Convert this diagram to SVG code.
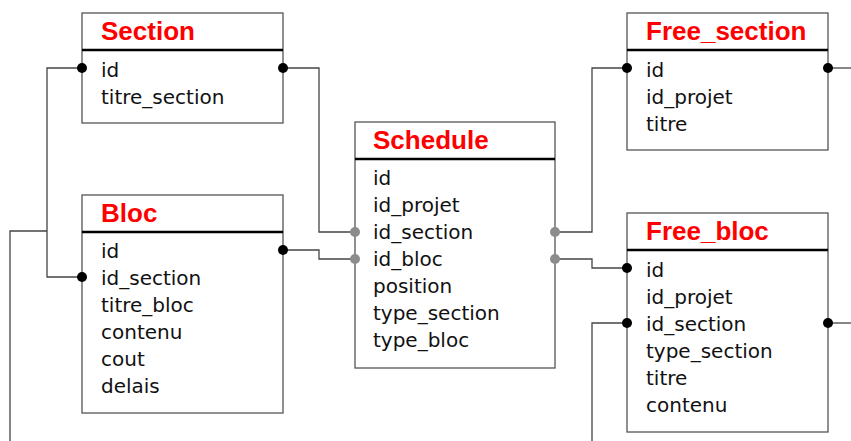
<svg xmlns="http://www.w3.org/2000/svg" width="851" height="441" viewBox="0 0 851 441">
<style>
.box{fill:#fff;stroke:#555;stroke-width:1.3}
.hdr{stroke:#000;stroke-width:2.5}
.title{font-family:"Liberation Sans",Arial,sans-serif;font-weight:bold;font-size:26px;fill:#ff0000}
.fld{font-family:"DejaVu Sans",sans-serif;font-size:20px;fill:#111}
.con{fill:none;stroke:#444;stroke-width:1.3}
.dot{fill:#000}
.gdot{fill:#8c8c8c}
</style>
<rect width="851" height="441" fill="#fff"/>
<g id="connectors">
<path class="con" d="M82 68 H47 V277 H82"/>
<path class="con" d="M47 231 H10 V441"/>
<path class="con" d="M283 68 H319 V232 H355"/>
<path class="con" d="M283 250 H319 V259 H355"/>
<path class="con" d="M555 232 H592 V68 H627"/>
<path class="con" d="M555 259 H592 V268 H627"/>
<path class="con" d="M627 323 H592 V441"/>
<path class="con" d="M828 68 H851"/>
<path class="con" d="M828 323 H851"/>
</g>
<g id="Section">
<rect class="box" x="82" y="13" width="201" height="110"/>
<line class="hdr" x1="82" y1="50" x2="283" y2="50"/>
<text class="title" x="101" y="40">Section</text>
<text class="fld" x="101" y="77">id</text>
<text class="fld" x="101" y="104">titre_section</text>
</g>
<g id="Bloc">
<rect class="box" x="82" y="195" width="201" height="218"/>
<line class="hdr" x1="82" y1="232" x2="283" y2="232"/>
<text class="title" x="101" y="222">Bloc</text>
<text class="fld" x="101" y="258">id</text>
<text class="fld" x="101" y="285">id_section</text>
<text class="fld" x="101" y="312">titre_bloc</text>
<text class="fld" x="101" y="339">contenu</text>
<text class="fld" x="101" y="366">cout</text>
<text class="fld" x="101" y="393">delais</text>
</g>
<g id="Schedule">
<rect class="box" x="355" y="122" width="200" height="246"/>
<line class="hdr" x1="355" y1="159" x2="555" y2="159"/>
<text class="title" x="373" y="149">Schedule</text>
<text class="fld" x="373" y="185">id</text>
<text class="fld" x="373" y="212">id_projet</text>
<text class="fld" x="373" y="239">id_section</text>
<text class="fld" x="373" y="266">id_bloc</text>
<text class="fld" x="373" y="293">position</text>
<text class="fld" x="373" y="320">type_section</text>
<text class="fld" x="373" y="347">type_bloc</text>
</g>
<g id="Free_section">
<rect class="box" x="627" y="13" width="201" height="137"/>
<line class="hdr" x1="627" y1="50" x2="828" y2="50"/>
<text class="title" x="646" y="40">Free_section</text>
<text class="fld" x="646" y="77">id</text>
<text class="fld" x="646" y="104">id_projet</text>
<text class="fld" x="646" y="131">titre</text>
</g>
<g id="Free_bloc">
<rect class="box" x="627" y="213" width="201" height="219"/>
<line class="hdr" x1="627" y1="250" x2="828" y2="250"/>
<text class="title" x="646" y="240">Free_bloc</text>
<text class="fld" x="646" y="277">id</text>
<text class="fld" x="646" y="304">id_projet</text>
<text class="fld" x="646" y="331">id_section</text>
<text class="fld" x="646" y="358">type_section</text>
<text class="fld" x="646" y="385">titre</text>
<text class="fld" x="646" y="412">contenu</text>
</g>
<g id="endpoints">
<circle class="dot" cx="82" cy="68" r="5"/>
<circle class="dot" cx="283" cy="68" r="5"/>
<circle class="dot" cx="82" cy="277" r="5"/>
<circle class="dot" cx="283" cy="250" r="5"/>
<circle class="dot" cx="627" cy="68" r="5"/>
<circle class="dot" cx="828" cy="68" r="5"/>
<circle class="dot" cx="627" cy="268" r="5"/>
<circle class="dot" cx="627" cy="323" r="5"/>
<circle class="dot" cx="828" cy="323" r="5"/>
<circle class="gdot" cx="355" cy="232" r="5"/>
<circle class="gdot" cx="355" cy="259" r="5"/>
<circle class="gdot" cx="555" cy="232" r="5"/>
<circle class="gdot" cx="555" cy="259" r="5"/>
</g>
</svg>
